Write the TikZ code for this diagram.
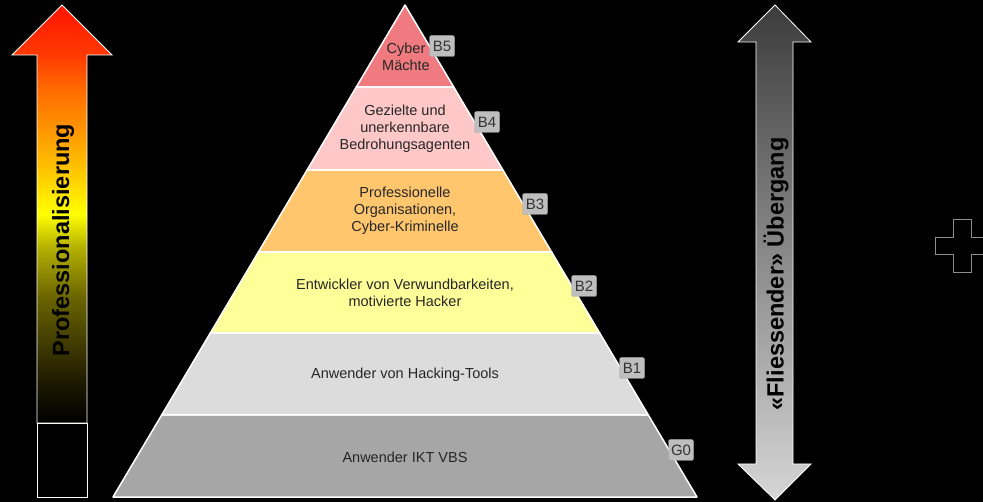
\documentclass[tikz,border=0pt]{standalone}
\usepackage{fontspec}
\setmainfont{Liberation Sans}

\definecolor{lvlBfive}{HTML}{EF7B80}
\definecolor{lvlBfour}{HTML}{FFC8C8}
\definecolor{lvlBthree}{HTML}{FFC66E}
\definecolor{lvlBtwo}{HTML}{FFFF99}
\definecolor{lvlBone}{HTML}{DCDCDC}
\definecolor{lvlGzero}{HTML}{A6A6A6}
\definecolor{taggray}{HTML}{BEBEBE}
\definecolor{pfred}{HTML}{FF1400}
\definecolor{pfredorange}{HTML}{FF3A00}
\definecolor{pforange}{HTML}{FF6A00}
\definecolor{pfamber}{HTML}{FF9600}
\definecolor{pfgold}{HTML}{FFC800}
\definecolor{pfyellow}{HTML}{FFFF00}
\definecolor{pfolive}{HTML}{B4B000}
\definecolor{pfdarkolive}{HTML}{6A6400}
\definecolor{pfdark}{HTML}{1E1A00}
\definecolor{ueTop}{HTML}{3C3C3C}
\definecolor{ueBottom}{HTML}{D6D6D6}

\pgfdeclareverticalshading{profshade}{100bp}{color(0bp)=(black); color(25bp)=(black);
  color(30bp)=(pfdark); color(40bp)=(pfdarkolive); color(46bp)=(pfolive);
  color(50bp)=(pfyellow); color(55bp)=(pfgold); color(60bp)=(pfamber);
  color(65bp)=(pforange); color(69bp)=(pfredorange); color(75bp)=(pfred); color(100bp)=(pfred)}

\tikzset{
  layer/.style={draw=white, line width=1.5pt, line join=round},
  leveltext/.style={align=center, font=\fontsize{14.5}{17}\selectfont, text=black!85},
  leveltag/.style={fill=taggray, draw=black!35, rounded corners=2pt, minimum width=25pt,
    minimum height=21pt, inner sep=0pt, font=\fontsize{15}{15}\selectfont, text=black!80},
  axistext/.style={rotate=90, font=\fontsize{23.5}{23.5}\selectfont\bfseries, text=black},
  bigarrow/.style={draw=white, line width=0.8pt, line join=miter}
}

\begin{document}
\begin{tikzpicture}[x=1pt,y=-1pt]

  \fill[black] (0,0) rectangle (983,502);
  \useasboundingbox (0,0) rectangle (983,502);

  % pyramid layers
  \filldraw[layer, fill=lvlGzero] (161.7,415) -- (648.3,415) -- (697,497) -- (113,497) -- cycle;
  \filldraw[layer, fill=lvlBone] (210.3,333) -- (599.7,333) -- (648.3,415) -- (161.7,415) -- cycle;
  \filldraw[layer, fill=lvlBtwo] (258.4,252) -- (551.6,252) -- (599.7,333) -- (210.3,333) -- cycle;
  \filldraw[layer, fill=lvlBthree] (307.1,170) -- (502.9,170) -- (551.6,252) -- (258.4,252) -- cycle;
  \filldraw[layer, fill=lvlBfour] (356.3,87) -- (453.7,87) -- (502.9,170) -- (307.1,170) -- cycle;
  \filldraw[layer, fill=lvlBfive] (405,5) -- (453.7,87) -- (356.3,87) -- cycle;

  \node (cyber) [leveltext] at (406,57) {Cyber\\Mächte};
  \node (gezielt) [leveltext] at (405,129) {Gezielte und\\unerkennbare\\Bedrohungsagenten};
  \node (profi) [leveltext] at (405,211) {Professionelle\\Organisationen,\\Cyber-Kriminelle};
  \node (entwickler) [leveltext] at (405,293) {Entwickler von Verwundbarkeiten,\\motivierte Hacker};
  \node (hacking) [leveltext] at (405,375) {Anwender von Hacking-Tools};
  \node (ikt) [leveltext] at (405,457) {Anwender IKT VBS};

  \node (tagB5) [leveltag] at (442,46) {B5};
  \node (tagB4) [leveltag] at (487,122) {B4};
  \node (tagB3) [leveltag] at (535,204) {B3};
  \node (tagB2) [leveltag] at (584,286) {B2};
  \node (tagB1) [leveltag] at (632,368) {B1};
  \node (tagG0) [leveltag] at (681,450) {G0};

  % Professionalisierung
  \shade[bigarrow, shading=profshade] (62,5) -- (112,55) -- (87,55) -- (87,423)
    -- (37,423) -- (37,55) -- (12,55) -- cycle;
  \filldraw[bigarrow, fill=black] (37,423) rectangle (87,497);
  \node (prof) [axistext] at (63,240) {Professionalisierung};

  % Uebergang
  \shade[bigarrow, top color=ueTop, bottom color=ueBottom] (775,5) -- (811,42) -- (793,42)
    -- (793,464) -- (811,464) -- (775,500) -- (738,464) -- (756,464) -- (756,42)
    -- (738,42) -- cycle;
  \node (uebergang) [axistext] at (776,274) {«Fliessender» Übergang};

  % cross
  \begin{scope}
    \clip (0,0) rectangle (983,502);
    \draw[black!45, line width=0.8pt] (953,219) -- (971,219) -- (971,237) -- (990,237)
      -- (990,254) -- (971,254) -- (971,272) -- (953,272) -- (953,254) -- (935,254)
      -- (935,237) -- (953,237) -- cycle;
  \end{scope}

\end{tikzpicture}
\end{document}
